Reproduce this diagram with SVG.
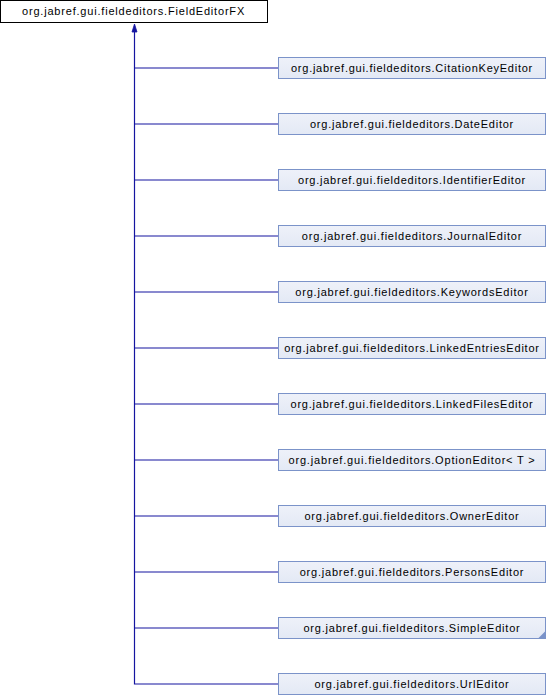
<svg xmlns="http://www.w3.org/2000/svg" width="546" height="696" viewBox="0 0 546 696">
<style>
.bg{fill:#ffffff}
.root rect{fill:#ffffff;stroke:#000000;stroke-width:1}
.child rect{fill:url(#g);stroke:#7b93c9;stroke-width:1}
text{font-family:"Liberation Sans",Arial,sans-serif;font-size:11px;letter-spacing:0.78px;fill:#000000;text-anchor:middle}
.edge{fill:none;stroke:#1515a0;stroke-width:1.2}
</style>
<defs>
<linearGradient id="g" x1="0" y1="0" x2="0" y2="1">
<stop offset="0" stop-color="#eef1f9"/>
<stop offset="1" stop-color="#e3e9f5"/>
</linearGradient>
</defs>
<rect class="bg" x="0" y="0" width="546" height="696"/>
<g id="connectors">
<path class="edge" d="M134.5,30 V684 H278"/>
<path class="edge" d="M134.5,68 H278 M134.5,124 H278 M134.5,180 H278 M134.5,236 H278 M134.5,292 H278 M134.5,348 H278 M134.5,404 H278 M134.5,460 H278 M134.5,516 H278 M134.5,572 H278 M134.5,628 H278"/>
<polygon points="134.5,24 132,32 137,32" fill="#1515a0" stroke="#1515a0" stroke-width="0.8"/>
</g>
<g id="FieldEditorFX" class="root"><rect x="0.5" y="0.5" width="267" height="22"/><text x="133.5" y="15" textLength="223" lengthAdjust="spacing">org.jabref.gui.fieldeditors.FieldEditorFX</text></g>
<g id="CitationKeyEditor" class="child"><rect x="278.5" y="57.5" width="267" height="21"/><text x="412" y="71.7" textLength="242" lengthAdjust="spacing">org.jabref.gui.fieldeditors.CitationKeyEditor</text></g>
<g id="DateEditor" class="child"><rect x="278.5" y="113.5" width="267" height="21"/><text x="412" y="127.7" textLength="204" lengthAdjust="spacing">org.jabref.gui.fieldeditors.DateEditor</text></g>
<g id="IdentifierEditor" class="child"><rect x="278.5" y="169.5" width="267" height="21"/><text x="412" y="183.7" textLength="228" lengthAdjust="spacing">org.jabref.gui.fieldeditors.IdentifierEditor</text></g>
<g id="JournalEditor" class="child"><rect x="278.5" y="225.5" width="267" height="21"/><text x="412" y="239.7">org.jabref.gui.fieldeditors.JournalEditor</text></g>
<g id="KeywordsEditor" class="child"><rect x="278.5" y="281.5" width="267" height="21"/><text x="412" y="295.7">org.jabref.gui.fieldeditors.KeywordsEditor</text></g>
<g id="LinkedEntriesEditor" class="child"><rect x="278.5" y="337.5" width="267" height="21"/><text x="412" y="351.7">org.jabref.gui.fieldeditors.LinkedEntriesEditor</text></g>
<g id="LinkedFilesEditor" class="child"><rect x="278.5" y="393.5" width="267" height="21"/><text x="412" y="407.7">org.jabref.gui.fieldeditors.LinkedFilesEditor</text></g>
<g id="OptionEditor" class="child"><rect x="278.5" y="449.5" width="267" height="21"/><text x="412" y="463.7" textLength="247" lengthAdjust="spacing">org.jabref.gui.fieldeditors.OptionEditor&lt; T &gt;</text></g>
<g id="OwnerEditor" class="child"><rect x="278.5" y="505.5" width="267" height="21"/><text x="412" y="519.7">org.jabref.gui.fieldeditors.OwnerEditor</text></g>
<g id="PersonsEditor" class="child"><rect x="278.5" y="561.5" width="267" height="21"/><text x="412" y="575.7">org.jabref.gui.fieldeditors.PersonsEditor</text></g>
<g id="SimpleEditor" class="child"><rect x="278.5" y="617.5" width="267" height="21"/><polygon points="545.5,631 545.5,638.5 538,638.5" fill="#7b93c9"/><text x="412" y="631.7">org.jabref.gui.fieldeditors.SimpleEditor</text></g>
<g id="UrlEditor" class="child"><rect x="278.5" y="673.5" width="267" height="21"/><text x="412" y="687.7">org.jabref.gui.fieldeditors.UrlEditor</text></g>
</svg>
